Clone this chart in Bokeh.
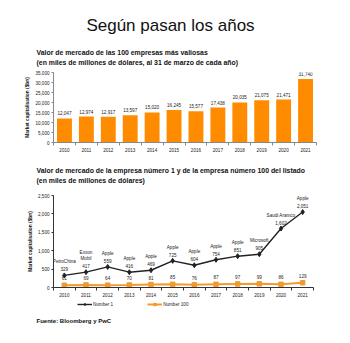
from bokeh.plotting import figure
from bokeh.layouts import column
from bokeh.models import (ColumnDataSource, Label, Legend, LegendItem, FixedTicker,
                          NumeralTickFormatter, Range1d)
from bokeh.core.properties import value
from bokeh.embed import file_html
from bokeh.resources import INLINE

years = [2010, 2011, 2012, 2013, 2014, 2015, 2016, 2017, 2018, 2019, 2020, 2021]
top100_total = [12047, 12974, 12917, 13597, 15020, 16245, 15577, 17438, 20035, 21075, 21471, 31740]
number1 = [329, 417, 559, 416, 469, 725, 604, 754, 851, 905, 1602, 2051]
number1_names = ["PetroChina", "Exxon\nMobil", "Apple", "Apple", "Apple", "Apple", "Apple",
                 "Apple", "Apple", "Microsoft", "Saudi Aramco", "Apple"]
number100 = [61, 69, 64, 70, 81, 85, 76, 87, 97, 99, 86, 129]

FONT = "Liberation Sans"
ORANGE = "#FF8C00"
ORANGE2 = "#F39A2E"
SMALL = "4.6px"
W = 350


def fmt(v):
    return f"{v:,}"


def text_panel(h):
    p = figure(width=W, height=h, output_backend="svg", toolbar_location=None,
               x_axis_type=None, y_axis_type=None, min_border=0, frame_align=False,
               x_range=Range1d(0, 1), y_range=Range1d(0, 1))
    p.outline_line_color = None
    p.xgrid.grid_line_color = None
    p.ygrid.grid_line_color = None
    return p


def add_label(p, h, x, y_top, text, size, bold=True, align="left"):
    # x, y_top: pixels from the panel's top-left corner
    p.add_layout(Label(x=x, y=h - y_top, x_units="screen", y_units="screen", text=text,
                       text_font=FONT, text_font_size=size,
                       text_font_style="bold" if bold else "normal",
                       text_align=align, text_baseline="middle", text_color="#111111"))


def style_axes(p, ymax, step, axis_color):
    p.xgrid.grid_line_color = None
    p.ygrid.grid_line_color = None
    p.outline_line_color = None
    p.x_range = Range1d(years[0] - 0.5, years[-1] + 0.5)
    p.y_range = Range1d(0, ymax)
    p.xaxis.ticker = FixedTicker(ticks=years, minor_ticks=[y + 0.5 for y in [years[0] - 1] + years])
    p.xaxis.major_tick_out = 0
    p.xaxis.major_tick_in = 0
    p.xaxis.minor_tick_out = 3
    p.xaxis.minor_tick_in = 0
    p.xaxis.minor_tick_line_color = axis_color
    p.xaxis.axis_line_color = axis_color
    p.xaxis.major_label_standoff = 2
    p.yaxis.ticker = FixedTicker(ticks=list(range(0, ymax + 1, step)))
    p.yaxis.formatter = NumeralTickFormatter(format="0,0")
    p.yaxis.minor_tick_line_color = None
    p.yaxis.major_tick_out = 2
    p.yaxis.major_tick_in = 0
    p.yaxis.major_tick_line_color = axis_color
    p.yaxis.axis_line_color = axis_color
    p.yaxis.major_label_standoff = 2
    for ax in (p.xaxis, p.yaxis):
        ax.major_label_text_font = FONT
        ax.major_label_text_font_size = SMALL
        ax.major_label_text_color = "#222222"
    p.yaxis.axis_label = "Market capitalisation ($bn)"
    p.yaxis.axis_label_text_font = FONT
    p.yaxis.axis_label_text_font_size = "4.8px"
    p.yaxis.axis_label_text_font_style = "bold"
    p.yaxis.axis_label_text_color = "#111111"
    p.yaxis.axis_label_standoff = 2


# ---------- header ----------
H0 = 67
head = text_panel(H0)
add_label(head, H0, 170, 25, "Según pasan los años", "17px", bold=False, align="center")
add_label(head, H0, 36, 52, "Valor de mercado de las 100 empresas más valiosas", "6.9px")
add_label(head, H0, 36, 62, "(en miles de millones de dólares, al 31 de marzo de cada año)", "6.9px")

# ---------- Chart 1 ----------
H1 = 90
p1 = figure(width=W, height=H1, output_backend="svg", toolbar_location=None, frame_align=False,
            min_border_left=53, min_border_right=34, min_border_top=5, min_border_bottom=15)
style_axes(p1, 35000, 5000, "#888888")
src1 = ColumnDataSource(dict(x=years, y=top100_total, lbl=[fmt(v) for v in top100_total]))
p1.vbar(x="x", top="y", width=0.68, source=src1, fill_color=ORANGE, line_color=None)
p1.text(x="x", y="y", text="lbl", source=src1, text_align="center", text_baseline="bottom",
        y_offset=-3, text_font=value(FONT), text_font_size=SMALL, text_color="#222222")

# ---------- middle subtitle ----------
HM = 33
mid = text_panel(HM)
add_label(mid, HM, 36, 13, "Valor de mercado de la empresa número 1 y de la empresa número 100 del listado", "6.9px")
add_label(mid, HM, 36, 23, "(en miles de millones de dólares)", "6.9px")

# ---------- Chart 2 ----------
H2 = 109
p2 = figure(width=W, height=H2, output_backend="svg", toolbar_location=None, frame_align=False,
            min_border_left=53, min_border_right=37, min_border_top=5, min_border_bottom=10)
style_axes(p2, 2500, 500, "#333333")
src_a = ColumnDataSource(dict(x=years, y=number1, lbl=[fmt(v) for v in number1], name=number1_names))
src_b = ColumnDataSource(dict(x=years, y=number100, lbl=[fmt(v) for v in number100]))
p2.line(x="x", y="y", source=src_b, line_color=ORANGE2, line_width=2)
p2.scatter(x="x", y="y", source=src_b, marker="square", size=4.5, fill_color=ORANGE2, line_color=ORANGE2)
p2.line(x="x", y="y", source=src_a, line_color="#222222", line_width=1.4)
p2.scatter(x="x", y="y", source=src_a, marker="diamond", size=5, fill_color="#222222", line_color="#222222")
p2.text(x="x", y="y", text="lbl", source=src_a, text_align="center", text_baseline="bottom",
        y_offset=-4, text_font=value(FONT), text_font_size=SMALL, text_color="#222222")
p2.text(x="x", y="y", text="name", source=src_a, text_align="center", text_baseline="bottom",
        y_offset=-11, text_font=value(FONT), text_font_size=SMALL, text_color="#222222",
        text_line_height=1.25)
p2.text(x="x", y="y", text="lbl", source=src_b, text_align="center", text_baseline="bottom",
        y_offset=-5, text_font=value(FONT), text_font_size=SMALL, text_color="#222222")

# ---------- legend + source ----------
HF = 343 - H0 - H1 - HM - H2
foot = text_panel(HF)
fa = foot.line(x=[0, 1], y=[-5, -5], line_color="#222222", line_width=1.4)
fam = foot.scatter(x=[0], y=[-5], marker="diamond", size=5,
                   fill_color="#222222", line_color="#222222")
fb = foot.line(x=[0, 1], y=[-5, -5], line_color=ORANGE2, line_width=2)
fbm = foot.scatter(x=[0], y=[-5], marker="square", size=4.5,
                   fill_color=ORANGE2, line_color=ORANGE2)
legend = Legend(items=[LegendItem(label="Number 1", renderers=[fa, fam]),
                       LegendItem(label="Number 100", renderers=[fb, fbm])],
                orientation="horizontal", location=(77, HF - 8),
                label_text_font=FONT, label_text_font_size=SMALL, label_text_color="#222222",
                glyph_width=15, glyph_height=6, spacing=34, padding=0, margin=0,
                label_standoff=1, border_line_color=None, background_fill_alpha=0,
                label_height=6)
foot.add_layout(legend, "center")
add_label(foot, HF, 36, 21, "Fuente: Bloomberg y PwC", "6px")

layout = column(head, p1, mid, p2, foot, spacing=0)
open("out.html", "w").write(file_html(layout, INLINE))
